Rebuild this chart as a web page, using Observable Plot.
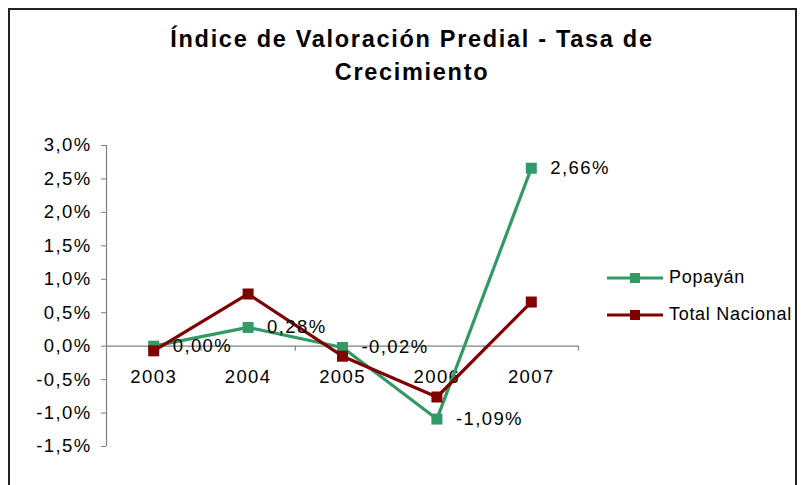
<!DOCTYPE html>
<html>
<head>
<meta charset="utf-8">
<script src="https://cdn.jsdelivr.net/npm/d3@7"></script>
<script src="https://cdn.jsdelivr.net/npm/@observablehq/plot@0.6"></script>
<style>
  html, body { margin: 0; padding: 0; background: #fff; }
  body { width: 803px; height: 485px; overflow: hidden; position: relative; font-family: "Liberation Sans", Arial, sans-serif; }
  #frame { position: absolute; left: 8px; top: 8px; width: 789px; height: 520px; border: 2px solid #222; box-sizing: border-box; }
  #title { position: absolute; left: 0; top: 23px; width: 824px; text-align: center; font-weight: bold; font-size: 23.5px; line-height: 33px; letter-spacing: 1.7px; color: #000; }
  #chart { position: absolute; left: 0; top: 0; }
  #legend { position: absolute; left: 607px; top: 259px; font-size: 18px; letter-spacing: 0.7px; color: #000; white-space: nowrap; }
  .row { display: flex; align-items: center; height: 37px; white-space: nowrap; }
  .row svg { margin-right: 6px; flex: none; }
</style>
</head>
<body>
<div id="frame"></div>
<div id="chart"></div>
<div id="title">Índice de Valoración Predial - Tasa de<br>Crecimiento</div>
<div id="legend"></div>
<script>
const years = [2003, 2004, 2005, 2006, 2007];
const popayan = [0.00, 0.28, -0.02, -1.09, 2.66];
const totalNacional = [-0.07, 0.78, -0.15, -0.76, 0.66];
const seriesNames = ["Popayán", "Total Nacional"];
const seriesColors = ["#339966", "#800000"];
const yTicks = [-1.5, -1.0, -0.5, 0.0, 0.5, 1.0, 1.5, 2.0, 2.5, 3.0];

const fmt1 = v => d3.format(".1f")(v).replace(".", ",").replace("−", "-") + "%";
const fmt2 = v => d3.format(".2f")(v).replace(".", ",").replace("−", "-") + "%";

const rows = [];
years.forEach((yr, i) => {
  rows.push({year: yr, value: popayan[i], series: seriesNames[0]});
});
years.forEach((yr, i) => {
  rows.push({year: yr, value: totalNacional[i], series: seriesNames[1]});
});
const popRows = rows.filter(d => d.series === seriesNames[0]);
const bounds = years.map(y => y + 0.5);

const chart = Plot.plot({
  width: 803,
  height: 485,
  marginLeft: 106,
  marginRight: 225,
  marginTop: 145,
  marginBottom: 39,
  style: {fontFamily: '"Liberation Sans", Arial, sans-serif', fontSize: "18.5px", letterSpacing: "1.4px", background: "transparent", color: "#000", overflow: "visible"},
  x: {type: "linear", domain: [years[0] - 0.5, years[years.length - 1] + 0.5], axis: null},
  y: {domain: [yTicks[0], yTicks[yTicks.length - 1]], axis: null},
  color: {domain: seriesNames, range: seriesColors},
  marks: [
    Plot.ruleX([years[0] - 0.5], {y1: yTicks[0], y2: yTicks[yTicks.length - 1], stroke: "#808080", strokeWidth: 1.2}),
    Plot.axisY({ticks: yTicks, tickSize: 5, tickPadding: 10, tickFormat: fmt1, stroke: "#808080", fill: "#000", fontSize: 18.5, label: null}),
    Plot.ruleY([0], {stroke: "#808080", strokeWidth: 1.2}),
    Plot.ruleX(bounds, {x: d => d, y1: 0, y2: -0.075, stroke: "#808080", strokeWidth: 1.2}),
    Plot.text(years, {x: d => d, y: () => 0, dy: 31, text: d => String(d), fill: "#000", fontSize: 18.5}),
    Plot.line(rows, {x: "year", y: "value", z: "series", stroke: "series", strokeWidth: 3.2, strokeLinejoin: "miter"}),
    Plot.dot(rows, {x: "year", y: "value", fill: "series", symbol: "square", r: 6.2}),
    Plot.text(popRows, {x: "year", y: "value", text: d => fmt2(d.value), dx: 19, textAnchor: "start", fill: "#000", fontSize: 18.5})
  ]
});
document.getElementById("chart").appendChild(chart);

const legend = document.getElementById("legend");
seriesNames.forEach((name, i) => {
  const row = document.createElement("div");
  row.className = "row";
  row.innerHTML = `<svg width="56" height="14"><line x1="0" x2="56" y1="7" y2="7" stroke="${seriesColors[i]}" stroke-width="3.2"/><rect x="23" y="2" width="10" height="10" fill="${seriesColors[i]}"/></svg><span>${name}</span>`;
  legend.appendChild(row);
});
</script>
</body>
</html>
